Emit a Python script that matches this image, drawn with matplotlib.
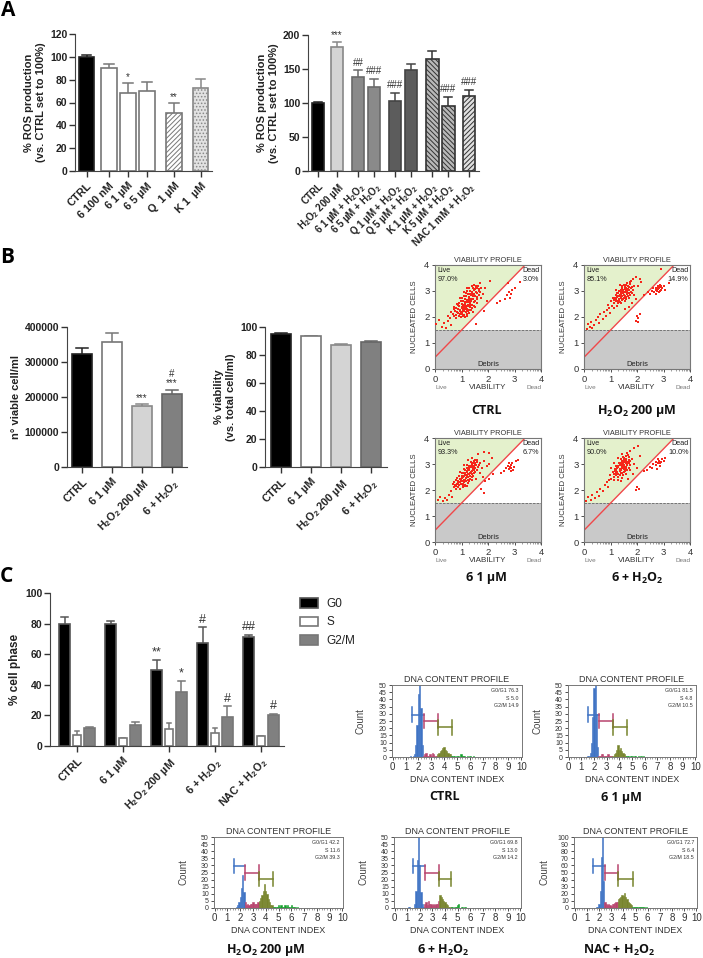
import numpy as np
from matplotlib import pyplot as plt
from matplotlib.patches import Polygon, Rectangle

plt.rcParams['font.family'] = ['Liberation Sans', 'DejaVu Sans']
plt.rcParams['mathtext.default'] = 'regular'
plt.rcParams['hatch.linewidth'] = 0.7

W, H = 703, 958

# panel A, left
a1_labels = ['CTRL', '6 100 nM', '6 1 µM', '6 5 µM', 'Q  1 µM', 'K 1  µM']
a1_values = [100, 90, 68, 70, 51, 73]
a1_err = [2, 4, 9, 8, 9, 8]
a1_sig = ['', '', '*', '', '**', '']
a1_pos = [0, 1.18, 2.18, 3.18, 4.6, 6]

# panel A, right
a2_labels = ['CTRL', 'H$_2$O$_2$ 200 µM', '6 1 µM + H$_2$O$_2$', '6 5 µM + H$_2$O$_2$',
             'Q 1 µM + H$_2$O$_2$', 'Q 5 µM + H$_2$O$_2$', 'K 1 µM + H$_2$O$_2$',
             'K 5 µM + H$_2$O$_2$', 'NAC 1 mM + H$_2$O$_2$']
a2_values = [100, 182, 138, 124, 103, 148, 164, 95, 110]
a2_err = [2, 7, 10, 11, 12, 9, 13, 14, 9]
a2_sig = ['', '***', '##', '###', '###', '', '', '###', '###']
a2_pos = [0, 1.19, 2.5, 3.5, 4.81, 5.81, 7.13, 8.13, 9.44]

# panel B bars
b_labels = ['CTRL', '6 1 µM', 'H$_2$O$_2$ 200 µM', '6 + H$_2$O$_2$']
b1_values = [322000, 358000, 175000, 208000]
b1_err = [18000, 24000, 5000, 13000]
b1_sig = ['', '', '***', '#\n***']
b2_values = [95, 93.5, 87, 89.5]
b2_err = [1, 0.4, 0.8, 0.3]

# panel B viability dot plots, (viability, nucleated cells)
ctrl_points = [(.72, 2.02), (.81, 1.97), (.9, 2.05), (.97, 1.99), (1.06, 2.04), (.68, 2.12), (.78, 2.09),
    (.87, 2.14), (.95, 2.1), (1.03, 2.13), (1.11, 2.08), (1.19, 2.12), (.76, 2.22), (.84, 2.19), (.93, 2.24),
    (1.0, 2.2), (1.09, 2.23), (1.17, 2.18), (1.25, 2.22), (.86, 2.31), (.95, 2.28), (1.03, 2.33), (1.12, 2.29),
    (1.2, 2.32), (1.28, 2.27), (.92, 2.41), (1.0, 2.38), (1.08, 2.43), (1.16, 2.39), (1.25, 2.42), (1.33, 2.37),
    (1.0, 2.5), (1.07, 2.47), (1.15, 2.52), (1.24, 2.48), (1.32, 2.53), (1.41, 2.47), (1.04, 2.6), (1.13, 2.57),
    (1.2, 2.62), (1.28, 2.58), (1.37, 2.61), (1.46, 2.56), (1.12, 2.7), (1.2, 2.67), (1.29, 2.72), (1.36, 2.68),
    (1.44, 2.71), (1.18, 2.81), (1.27, 2.78), (1.34, 2.83), (1.42, 2.79), (1.51, 2.82), (1.6, 2.77), (1.25, 2.9),
    (1.33, 2.88), (1.41, 2.92), (1.49, 2.89), (1.58, 2.93), (1.33, 3.0), (1.4, 2.97), (1.48, 3.02), (1.56, 2.98),
    (1.66, 3.01), (1.43, 3.1), (1.5, 3.07), (1.58, 3.12), (1.65, 3.09), (1.55, 3.2), (1.63, 3.18),
    (.62, 2.18), (.7, 2.3), (.78, 2.35), (.85, 2.45), (.9, 2.55), (.97, 2.62), (1.03, 2.73), (1.1, 2.82), (1.16, 2.93),
    (1.22, 3.0), (1.3, 3.1), (1.38, 3.18), (1.46, 3.25), (1.12, 2.0), (1.2, 2.03), (1.3, 2.15), (1.35, 2.28), (1.4, 2.34),
    (1.48, 2.42), (1.52, 2.62), (1.58, 2.7), (1.66, 2.85), (1.7, 2.98), (1.72, 3.12), (1.04, 2.27), (1.12, 2.47),
    (1.2, 2.57), (1.28, 2.65), (1.4, 2.86), (1.46, 3.06), (1.55, 3.13), (1.08, 2.33), (.98, 2.16), (1.22, 2.27),
    (1.16, 2.44), (1.33, 2.47),
    (.05, 1.72), (.14, 1.88), (.25, 1.62), (.33, 1.78), (.42, 1.58), (.5, 1.84), (.58, 1.95), (.62, 1.7), (.48, 2.05),
    (.7, 2.38), (.82, 2.5), (.95, 2.72), (1.08, 2.95), (1.2, 3.12), (1.75, 2.72), (1.82, 2.9), (1.9, 3.12),
    (1.95, 2.6), (2.07, 3.38), (1.7, 3.32), (1.52, 2.4), (1.6, 2.55), (1.42, 2.2), (1.55, 1.75), (1.85, 2.22),
    (2.35, 2.52), (2.45, 2.62), (2.72, 2.85), (2.78, 2.95), (2.82, 2.72), (2.9, 3.05), (3.02, 3.12), (2.85, 2.88),
    (2.65, 2.68), (3.2, 3.35), (2.75, 3.3)]
h2o2_points = [(1.12, 2.55), (1.2, 2.62), (1.27, 2.52), (1.33, 2.64), (1.41, 2.55), (1.16, 2.72), (1.24, 2.76),
    (1.31, 2.7), (1.39, 2.74), (1.47, 2.68), (1.55, 2.62), (1.2, 2.85), (1.28, 2.82), (1.36, 2.86), (1.44, 2.8),
    (1.52, 2.84), (1.6, 2.76), (1.68, 2.72), (1.3, 2.93), (1.38, 2.96), (1.46, 2.91), (1.54, 2.95), (1.62, 2.89),
    (1.7, 2.93), (1.38, 3.05), (1.46, 3.02), (1.53, 3.07), (1.61, 3.01), (1.69, 3.05), (1.77, 2.98), (1.45, 3.13),
    (1.53, 3.16), (1.6, 3.11), (1.68, 3.15), (1.76, 3.1), (1.84, 3.04), (1.57, 3.24), (1.65, 3.21), (1.73, 3.26),
    (1.62, 3.3), (1.72, 3.33), (1.05, 2.42), (1.12, 2.35), (1.25, 2.42), (1.0, 2.6), (.95, 2.35),
    (1.14, 2.64), (1.22, 2.69), (1.3, 2.61), (1.37, 2.58), (1.43, 2.67), (1.51, 2.74), (1.58, 2.69), (1.66, 2.81),
    (1.74, 2.85), (1.82, 2.93), (1.24, 2.91), (1.32, 3.01), (1.4, 2.89), (1.48, 2.98), (1.56, 2.8), (1.64, 2.96),
    (1.42, 3.18), (1.5, 3.25), (1.35, 2.79), (1.58, 3.03), (1.66, 3.09), (1.8, 3.15), (1.88, 3.2), (1.78, 3.38),
    (.1, 1.55), (.15, 1.72), (.22, 1.62), (.28, 1.82), (.32, 1.58), (.38, 1.7), (.45, 1.88), (.52, 2.0), (.58, 1.78),
    (.62, 2.1), (.7, 1.92), (.75, 2.2), (.82, 2.05), (.88, 2.28), (.92, 2.48), (.98, 2.15), (1.08, 2.72), (1.2, 3.02),
    (1.35, 3.25), (1.85, 3.45), (1.98, 3.55), (2.1, 3.48), (1.9, 2.85), (2.02, 3.2), (2.15, 3.35), (1.82, 2.55),
    (1.95, 2.7), (1.7, 2.38), (1.55, 2.3), (2.02, 1.95), (2.0, 2.05), (1.95, 1.85), (2.1, 2.1), (2.05, 1.8),
    (2.28, 2.85), (2.4, 2.95), (2.5, 2.9), (2.58, 3.0), (2.66, 2.98), (2.7, 3.1), (2.75, 3.0), (2.8, 3.06), (2.84, 2.95),
    (2.85, 3.14), (2.9, 3.02), (2.95, 3.12), (2.78, 3.18), (3.0, 3.2), (2.88, 3.22), (2.7, 2.88), (3.05, 3.05),
    (2.62, 3.12), (3.2, 3.3), (2.9, 3.85), (2.73, 3.04), (2.82, 3.1), (2.87, 3.0), (2.92, 3.18), (2.77, 3.12)]
dose_points = [(.72, 2.1), (.8, 2.03), (.88, 2.12), (.96, 2.05), (1.04, 2.1), (.75, 2.2), (.83, 2.24), (.91, 2.18),
    (.99, 2.23), (1.07, 2.17), (1.15, 2.21), (.85, 2.33), (.93, 2.3), (1.01, 2.35), (1.09, 2.29), (1.17, 2.34),
    (1.25, 2.28), (.93, 2.42), (1.01, 2.46), (1.09, 2.4), (1.17, 2.45), (1.25, 2.39), (1.33, 2.43), (1.0, 2.55),
    (1.08, 2.52), (1.16, 2.57), (1.24, 2.5), (1.32, 2.55), (1.4, 2.5), (1.07, 2.64), (1.15, 2.67), (1.23, 2.62),
    (1.31, 2.66), (1.39, 2.6), (1.47, 2.64), (1.14, 2.76), (1.22, 2.73), (1.3, 2.77), (1.38, 2.72), (1.46, 2.76),
    (1.2, 2.85), (1.28, 2.83), (1.36, 2.87), (1.44, 2.82), (1.52, 2.86), (1.3, 2.94), (1.38, 2.97), (1.46, 2.93),
    (1.54, 2.97), (1.62, 2.9), (1.42, 3.05), (1.5, 3.03), (1.58, 3.08), (1.52, 3.14), (1.6, 3.17),
    (.78, 2.14), (.86, 2.28), (.97, 2.38), (1.05, 2.5), (1.12, 2.6), (1.19, 2.71), (1.26, 2.8), (1.33, 2.91), (1.41, 3.0),
    (1.47, 3.1), (1.12, 2.14), (1.22, 2.16), (1.3, 2.33), (1.38, 2.38), (1.45, 2.52), (1.52, 2.7), (1.58, 2.78),
    (1.66, 2.98), (1.05, 2.25), (1.13, 2.38), (1.21, 2.54), (1.28, 2.6), (1.35, 2.7), (1.42, 2.88), (1.5, 2.95),
    (.67, 2.22), (.78, 2.38), (.9, 2.52), (1.0, 2.66), (1.1, 2.8), (1.22, 2.96), (1.35, 3.08),
    (.1, 1.62), (.2, 1.75), (.3, 1.58), (.38, 1.68), (.45, 1.6), (.52, 1.82), (.6, 1.95), (.65, 1.75), (.7, 2.3),
    (.82, 2.48), (.95, 2.7), (1.1, 2.95), (1.25, 3.15), (1.4, 3.25), (1.62, 3.4), (1.85, 3.48), (2.05, 3.42), (2.15, 3.25),
    (1.7, 3.05), (1.78, 2.85), (1.86, 3.12), (1.95, 2.92), (2.05, 3.0), (1.68, 2.65), (1.8, 2.5), (1.55, 2.42), (1.9, 2.35),
    (1.85, 1.88), (1.72, 2.02), (2.2, 2.6), (2.05, 2.42),
    (2.68, 2.85), (2.75, 2.92), (2.8, 2.82), (2.85, 2.95), (2.88, 2.72), (2.92, 3.05), (2.98, 2.9), (3.05, 3.1),
    (3.12, 3.15), (2.95, 2.78), (2.78, 3.02), (2.6, 2.75), (2.5, 2.65), (2.82, 2.9), (2.88, 2.86)]
combo_points = [(1.12, 2.5), (1.2, 2.58), (1.28, 2.5), (1.36, 2.56), (1.44, 2.48), (1.1, 2.7), (1.18, 2.74),
    (1.26, 2.68), (1.34, 2.72), (1.42, 2.66), (1.5, 2.7), (1.18, 2.82), (1.26, 2.85), (1.34, 2.8), (1.42, 2.84),
    (1.5, 2.79), (1.58, 2.82), (1.28, 2.93), (1.36, 2.96), (1.44, 2.91), (1.52, 2.95), (1.6, 2.9), (1.68, 2.86),
    (1.38, 3.04), (1.46, 3.02), (1.54, 3.06), (1.62, 3.0), (1.7, 3.03), (1.44, 3.13), (1.52, 3.16), (1.6, 3.11),
    (1.68, 3.14), (1.52, 3.24), (1.6, 3.21), (1.68, 3.26), (1.58, 3.32), (1.66, 3.35), (1.63, 3.42), (1.02, 2.42),
    (1.15, 2.4), (1.3, 2.38), (.98, 2.58), (1.4, 2.35), (1.58, 2.6),
    (1.14, 2.62), (1.22, 2.66), (1.3, 2.6), (1.38, 2.64), (1.46, 2.58), (1.54, 2.74), (1.22, 2.78), (1.3, 2.9),
    (1.38, 2.76), (1.46, 2.87), (1.56, 2.88), (1.64, 2.95), (1.32, 3.02), (1.42, 2.98), (1.5, 3.08), (1.58, 3.03),
    (1.66, 3.08), (1.74, 3.1), (1.4, 3.2), (1.48, 3.28), (1.56, 3.16), (1.2, 2.92), (1.75, 2.95), (1.62, 2.76),
    (.08, 1.58), (.15, 1.72), (.25, 1.62), (.32, 1.8), (.42, 1.68), (.48, 1.92), (.58, 1.78), (.62, 2.05), (.72, 1.95),
    (.78, 2.18), (.85, 2.32), (.92, 2.12), (.96, 2.4), (1.02, 2.85), (1.12, 3.02), (1.28, 3.22), (1.45, 3.38), (1.75, 3.5),
    (1.9, 3.6), (2.02, 3.68), (1.82, 3.2), (1.9, 3.0), (2.0, 2.85), (2.12, 3.3), (1.75, 2.78), (1.85, 2.6), (1.65, 2.42),
    (2.0, 2.1), (1.95, 2.0), (2.08, 2.02),
    (2.28, 2.72), (2.38, 2.78), (2.48, 2.9), (2.55, 2.85), (2.62, 3.0), (2.7, 2.95), (2.72, 3.08), (2.78, 3.02),
    (2.82, 3.12), (2.85, 2.92), (2.9, 3.08), (2.95, 3.18), (3.0, 3.1), (2.75, 2.82), (3.05, 3.22), (2.8, 3.2), (2.86, 3.02)]
vp_points = [ctrl_points, h2o2_points, dose_points, combo_points]
vp_live = ['97.0%', '85.1%', '93.3%', '90.0%']
vp_dead = ['3.0%', '14.9%', '6.7%', '10.0%']
vp_names = ['CTRL', 'H$_2$O$_2$ 200 µM', '6 1 µM', '6 + H$_2$O$_2$']

# panel C bars
c_labels = ['CTRL', '6 1 µM', 'H$_2$O$_2$ 200 µM', '6 + H$_2$O$_2$', 'NAC + H$_2$O$_2$']
g0_values = [79.5, 79.5, 49.5, 67, 71]
g0_err = [4.5, 2, 7, 10.5, 1.8]
g0_sig = ['', '', '**', '#', '##']
s_values = [7, 5, 11, 8.5, 6.5]
s_err = [2.5, 0.3, 4, 3, 0.3]
g2_values = [11.5, 14, 35, 19, 20]
g2_err = [0.7, 1.5, 7.5, 7, 1.2]
g2_sig = ['', '', '*', '#', '#']

# panel C DNA histograms, counts per 0.1 bin from 1.0 to 6.9
dna_bins = np.arange(60) / 10 + 1.0
dna_ctrl = [0, 0, 0, 0, 1, 0, 1, 2, 8, 22, 44, 50, 34, 8, 1,
            2, 3, 1, 1, 2, 1, 3, 2, 1, 1, 2, 3, 4, 5, 6, 7, 5, 4, 3, 2, 2, 1,
            1, 1, 0, 1, 1, 0, 2, 1, 1, 1, 0, 1, 0, 1, 0, 0, 1, 0, 0, 0, 0, 0, 0]
dna_dose = [0, 0, 0, 0, 0, 1, 1, 3, 10, 28, 48, 50, 30, 7, 1,
            1, 2, 2, 1, 1, 1, 2, 1, 1, 1, 1, 2, 3, 5, 8, 5, 6, 4, 3, 2, 1, 1,
            1, 0, 1, 1, 0, 1, 1, 0, 1, 0, 1, 0, 1, 0, 0, 0, 0, 0, 0, 0, 0, 0, 0]
dna_h2o2 = [0, 0, 0, 0, 0, 0, 0, 1, 2, 4, 8, 14, 23, 11, 4,
            2, 3, 2, 3, 3, 4, 3, 3, 3, 4, 5, 7, 9, 12, 17, 12, 10, 6, 4, 2, 2, 1,
            1, 1, 1, 2, 1, 2, 1, 1, 2, 1, 2, 1, 1, 2, 1, 1, 1, 0, 1, 0, 0, 0, 0]
dna_combo = [0, 1, 1, 0, 0, 0, 3, 12, 34, 50, 30, 11, 3, 1, 3,
             4, 2, 5, 3, 3, 2, 3, 2, 3, 3, 5, 9, 8, 6, 5, 4, 3, 2, 1, 1, 1,
             1, 0, 1, 1, 2, 3, 0, 1, 1, 0, 1, 0, 0, 0, 0, 0, 0, 0, 0, 0, 0, 0, 0, 0]
dna_nac = [0, 0, 0, 0, 0, 0, 0, 0, 1, 2, 6, 24, 72, 100, 38,
           8, 5, 4, 5, 4, 3, 5, 6, 7, 8, 9, 12, 14, 16, 19, 17, 21, 15, 12, 9, 7, 5, 4,
           2, 2, 1, 2, 1, 2, 1, 1, 1, 1, 0, 1, 0, 0, 0, 0, 0, 0, 0, 0, 0, 0]
dna_counts = [dna_ctrl, dna_dose, dna_h2o2, dna_combo, dna_nac]
dna_ymax = [50, 50, 50, 50, 100]
dna_gates = [[1.5, 2.4, 3.5, 4.6], [1.5, 2.4, 3.5, 4.6], [1.5, 2.4, 3.5, 4.6],
             [1.5, 2.4, 3.55, 4.5], [1.5, 2.5, 3.6, 4.8]]
dna_stats = [['G0/G1 76.3', 'S 5.0', 'G2/M 14.9'], ['G0/G1 81.5', 'S 4.8', 'G2/M 10.5'],
             ['G0/G1 42.2', 'S 11.6', 'G2/M 39.3'], ['G0/G1 69.8', 'S 13.0', 'G2/M 14.2'],
             ['G0/G1 72.7', 'S 6.4', 'G2/M 18.5']]
dna_names = ['CTRL', '6 1 µM', 'H$_2$O$_2$ 200 µM', '6 + H$_2$O$_2$', 'NAC + H$_2$O$_2$']

fig = plt.figure(figsize=(W / 100, H / 100), dpi=100)


def box(x0, y0, x1, y1):
    # axes from pixel corners of the picture
    return fig.add_axes([x0 / W, 1 - y1 / H, (x1 - x0) / W, (y1 - y0) / H])


def caption(x, y, s, size=9):
    fig.text(x / W, 1 - y / H, s, ha='center', va='center', fontsize=size,
             fontweight='bold', family=['Open Sans', 'DejaVu Sans'], color='#111111')


def bar_axes(ax, labels, ylabel, xlim, ylim, yticks, pos):
    ax.set_xlim(xlim)
    ax.set_ylim(ylim)
    ax.set_yticks(yticks)
    ax.set_xticks(pos)
    ax.set_xticklabels(labels, rotation=45, ha='right', rotation_mode='anchor',
                       fontsize=7.8, fontweight='bold', color='#222222')
    ax.tick_params(axis='y', labelsize=7.5, length=4, width=1, color='#333333', pad=1.5)
    ax.tick_params(axis='x', length=4, width=1, color='#333333', pad=3)
    for t in ax.get_yticklabels():
        t.set_fontweight('bold')
        t.set_color('#222222')
    ax.spines['top'].set_visible(False)
    ax.spines['right'].set_visible(False)
    ax.spines['left'].set_color('#444444')
    ax.spines['bottom'].set_color('#444444')
    ax.set_ylabel(ylabel, fontsize=8, fontweight='bold', color='#222222', labelpad=3)
    ax.patch.set_alpha(0)


def bars(ax, pos, values, err, styles, width, sig=None, gap=0, sig_size=7):
    made = []
    for i, x in enumerate(pos):
        face, edge, hatch = styles[i]
        made.append(ax.bar(x, values[i], width, color=face, edgecolor=edge, hatch=hatch,
                           linewidth=1.2, zorder=2))
        ax.errorbar(x, values[i], yerr=[[0], [err[i]]], fmt='none', ecolor=edge,
                    elinewidth=1.1, zorder=1)
        cap = width * 0.3
        ax.plot([x - cap, x + cap], [values[i] + err[i]] * 2, color=edge, lw=1.1, zorder=1)
        if sig and sig[i]:
            ax.text(x, values[i] + err[i] + gap, sig[i], ha='center', va='bottom',
                    fontsize=sig_size, color='#333333', linespacing=0.9)
    return made


black = ('black', '#222222', None)
white = ('white', '#777777', None)
light = ('#d4d4d4', '#888888', None)
mid = ('#808080', '#666666', None)

# A left
ax = box(75, 34, 212, 171)
bar_axes(ax, a1_labels, '% ROS production\n(vs. CTRL set to 100%)', (-0.605, 6.6), (0, 120),
         [0, 20, 40, 60, 80, 100, 120], a1_pos)
a1_styles = [black, white, white, white, ('white', '#777777', '///////'), ('#e2e2e2', '#888888', '.....')]
bars(ax, a1_pos, a1_values, a1_err, a1_styles, 0.82, a1_sig, 0.5)

# A right
ax = box(308, 35, 479, 171)
bar_axes(ax, a2_labels, '% ROS production\n(vs. CTRL set to 100%)', (-0.625, 10.06), (0, 200),
         [0, 50, 100, 150, 200], a2_pos)
for t in ax.get_xticklabels():
    t.set_fontsize(7)
a2_styles = [black, light, ('#8a8a8a', '#6a6a6a', None), ('#8a8a8a', '#6a6a6a', None),
             ('#5c5c5c', '#444444', None), ('#5c5c5c', '#444444', None),
             ('#b8b8b8', '#333333', '\\\\\\\\\\\\\\'), ('#b8b8b8', '#333333', '\\\\\\\\\\\\\\'),
             ('#e0e0e0', '#333333', '///////')]
bars(ax, a2_pos, a2_values, a2_err, a2_styles, 0.8, a2_sig, 4)

# B left and middle
b_styles = [black, white, light, mid]
ax = box(67, 327, 187, 467)
bar_axes(ax, b_labels, 'n° viable cell/ml', (-0.5, 3.5), (0, 400000),
         [0, 100000, 200000, 300000, 400000], [0, 1, 2, 3])
bars(ax, [0, 1, 2, 3], b1_values, b1_err, b_styles, 0.67, b1_sig, 4000)

ax = box(265, 327, 387, 467)
bar_axes(ax, b_labels, '% viability\n(vs. total cell/ml)', (-0.533, 3.53), (0, 100),
         [0, 20, 40, 60, 80, 100], [0, 1, 2, 3])
bars(ax, [0, 1, 2, 3], b2_values, b2_err, b_styles, 0.67)

# B dot plots
vp_boxes = [(435, 265, 541, 369), (584, 265, 690, 369), (435, 438, 541, 542), (584, 438, 690, 542)]
vp_caps = [(486, 411), (637, 411), (486, 578), (637, 578)]
minor_ticks = [n + np.log10(k) for n in range(4) for k in range(2, 10)]
for i, b in enumerate(vp_boxes):
    ax = box(*b)
    ax.set_xlim(0, 4)
    ax.set_ylim(0, 4)
    ax.add_patch(Polygon([(0, 1.5), (1.0, 1.5), (3.4, 4), (0, 4)], color='#e4f1cc', lw=0, zorder=0))
    ax.add_patch(Rectangle((0, 0), 4, 1.5, color='#c9c9c9', lw=0, zorder=0))
    ax.plot([0, 4], [1.5, 1.5], color='#666666', lw=0.6, ls=(0, (3, 1.5)), zorder=1)
    ax.plot([0, 3.4], [0.45, 4], color='#f0484a', lw=1, zorder=2)
    pts = vp_points[i]
    ax.scatter([p[0] for p in pts], [p[1] for p in pts], s=3.2, marker='s', color='#f5261a', lw=0, zorder=3)
    ax.set_xticks([0, 1, 2, 3, 4])
    ax.set_yticks([0, 1, 2, 3, 4])
    ax.set_xticks(minor_ticks, minor=True)
    ax.tick_params(labelsize=6.8, length=2.5, width=0.6, pad=1.5, colors='#333333')
    ax.tick_params(which='minor', length=1.5, width=0.4, color='#555555')
    for s in ax.spines.values():
        s.set_color('#777777')
        s.set_linewidth(0.8)
    ax.set_title('VIABILITY PROFILE', fontsize=5.3, color='#333333', pad=2.5)
    ax.set_ylabel('NUCLEATED CELLS', fontsize=5.6, color='#333333', labelpad=0)
    ax.yaxis.set_label_coords(-0.165, 0.5)
    ax.text(0.09, 3.78, 'Live', fontsize=5.2, va='center', color='#222222')
    ax.text(0.09, 3.45, vp_live[i], fontsize=5.2, va='center', color='#222222')
    ax.text(3.94, 3.78, 'Dead', fontsize=5.2, va='center', ha='right', color='#222222')
    ax.text(3.94, 3.45, vp_dead[i], fontsize=5.2, va='center', ha='right', color='#222222')
    ax.text(2, 0.18, 'Debris', fontsize=5.4, va='center', ha='center', color='#222222')
    ax.text(2, -0.72, 'VIABILITY', fontsize=5.8, va='center', ha='center', color='#333333')
    ax.text(0.22, -0.72, 'Live', fontsize=4.6, va='center', ha='center', color='#777777')
    ax.text(3.72, -0.72, 'Dead', fontsize=4.6, va='center', ha='center', color='#777777')
    caption(vp_caps[i][0], vp_caps[i][1], vp_names[i])

# C bars
ax = box(50, 593, 284, 746)
c_pos = np.arange(5)
bar_axes(ax, c_labels, '% cell phase', (-0.587, 4.5), (0, 100), [0, 20, 40, 60, 80, 100], c_pos)
ax.yaxis.label.set_fontsize(8.5)
g0_bars = bars(ax, c_pos - 0.27, g0_values, g0_err, [('black', '#555555', None)] * 5, 0.23, g0_sig, 1, 9)
s_bars = bars(ax, c_pos, s_values, s_err, [white] * 5, 0.17)
g2_bars = bars(ax, c_pos + 0.27, g2_values, g2_err, [('#808080', '#777777', None)] * 5, 0.23, g2_sig, 1, 9)
fig.legend([g0_bars[0], s_bars[0], g2_bars[0]], ['G0', 'S', 'G2/M'], loc='upper left',
           bbox_to_anchor=(300 / W, 1 - 598 / H), frameon=False, fontsize=8.5,
           handlelength=1.5, handleheight=0.85, labelspacing=0.55, handletextpad=0.75,
           labelcolor='#222222', borderpad=0, borderaxespad=0)

# C DNA histograms
dna_boxes = [(392, 685, 522, 757), (568, 685, 696, 757), (214, 837, 343, 908),
             (394, 837, 521, 908), (574, 837, 697, 908)]
dna_caps = [(445, 797), (621, 797), (266, 950), (443, 950), (619, 950)]
gate_colors = ['#3f73c4', '#b8446e', '#77842c', '#14a02a']
for i, b in enumerate(dna_boxes):
    ax = box(*b)
    ymax = dna_ymax[i]
    gates = dna_gates[i]
    colors = []
    for x in dna_bins:
        if x < gates[1]:
            colors.append(gate_colors[0])
        elif x < gates[2]:
            colors.append(gate_colors[1])
        elif x < gates[3]:
            colors.append(gate_colors[2])
        else:
            colors.append(gate_colors[3])
    ax.bar(dna_bins, dna_counts[i], 0.1, color=colors, edgecolor=colors, lw=0.4, zorder=2)
    ax.set_xlim(-0.05, 10.05)
    ax.set_ylim(0, ymax)
    # gate brackets
    for g in range(3):
        y = ymax * (0.59 - 0.09 * g)
        ax.plot([gates[g], gates[g + 1]], [y, y], color=gate_colors[g], lw=1.1, zorder=3)
        for gx in gates[g:g + 2]:
            if g == 0 and gx == gates[1]:
                continue
            ax.plot([gx, gx], [y - ymax * 0.1, y + ymax * 0.1], color=gate_colors[g], lw=1.1, zorder=3)
    ax.set_xticks(range(11))
    ax.set_xticks(np.arange(0, 100, 2) / 10, minor=True)
    ax.set_yticks(range(0, ymax + 1, ymax // 10))
    ax.tick_params(labelsize=7, length=2.5, width=0.6, pad=1.2, colors='#333333')
    ax.tick_params(axis='y', labelsize=5)
    ax.tick_params(which='minor', length=1.3, width=0.4, color='#555555')
    for s in ax.spines.values():
        s.set_color('#777777')
        s.set_linewidth(0.7)
    ax.set_title('DNA CONTENT PROFILE', fontsize=6.5, color='#333333', pad=2.5)
    ax.set_xlabel('DNA CONTENT INDEX', fontsize=6.5, color='#333333', labelpad=2)
    ax.set_ylabel('Count', fontsize=7, color='#444444')
    ax.yaxis.set_label_coords(-0.2, 0.5)
    for k, s in enumerate(dna_stats[i]):
        ax.text(9.8, ymax * (0.92 - 0.105 * k), s, fontsize=3.8, ha='right', va='center', color='#333333')
    caption(dna_caps[i][0], dna_caps[i][1], dna_names[i])

# panel letters
for s, x, y in [('A', 8, 10), ('B', 7, 257), ('C', 6, 576)]:
    fig.text(x / W, 1 - y / H, s, ha='center', va='center', fontsize=15, fontweight='bold',
             family=['Open Sans', 'DejaVu Sans'], color='black')

fig.savefig('out.png', dpi=100)
